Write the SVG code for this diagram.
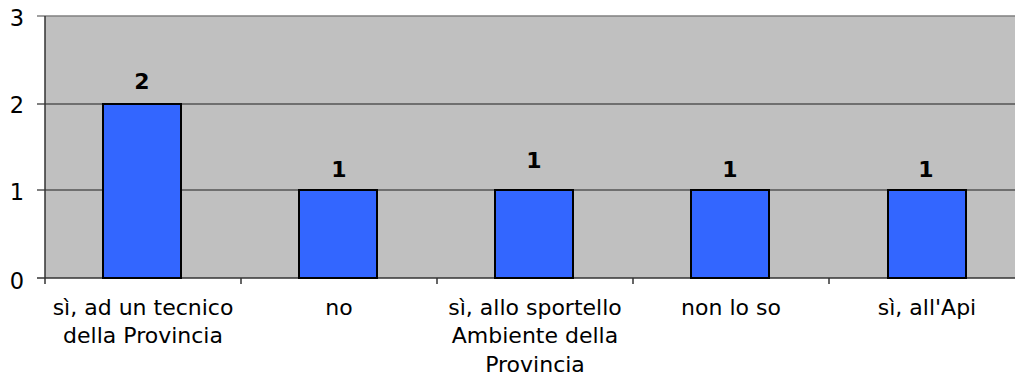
<svg xmlns="http://www.w3.org/2000/svg" width="1015" height="378" viewBox="0 0 1015 378">
<style>
.lbl{font-family:"DejaVu Sans",Verdana,sans-serif;font-size:22px;fill:#000;text-anchor:middle}
.ax{font-family:"DejaVu Sans",Verdana,sans-serif;font-size:22.5px;fill:#000;text-anchor:end}
.val{font-family:"DejaVu Sans",Verdana,sans-serif;font-size:22px;font-weight:bold;fill:#000;text-anchor:middle}
.bar{fill:#3366ff;stroke:#000;stroke-width:2}
.grid{stroke:#555;stroke-width:1.3}
</style>
<rect width="1015" height="378" fill="#fff"/>
<g id="plot">
<rect x="45" y="16" width="975" height="262" fill="#c0c0c0"/>
<line x1="37" y1="16" x2="1015" y2="16" stroke="#808080" stroke-width="1.5"/>
<line class="grid" x1="37" y1="104" x2="1015" y2="104"/>
<line class="grid" x1="37" y1="190" x2="1015" y2="190"/>
<line x1="37" y1="278" x2="1015" y2="278" stroke="#333" stroke-width="1.5"/>
<line x1="45" y1="16" x2="45" y2="284" stroke="#333" stroke-width="1.5"/>
<g stroke="#333" stroke-width="1.5">
<line x1="241" y1="278" x2="241" y2="284"/>
<line x1="437" y1="278" x2="437" y2="284"/>
<line x1="633" y1="278" x2="633" y2="284"/>
<line x1="829" y1="278" x2="829" y2="284"/>
</g>
<text class="ax" x="24" y="26">3</text>
<text class="ax" x="24" y="113">2</text>
<text class="ax" x="24" y="200">1</text>
<text class="ax" x="24" y="289">0</text>
</g>
<g id="bar1"><rect class="bar" x="103" y="104" width="78" height="174"/><text class="val" x="142" y="89">2</text></g>
<g id="bar2"><rect class="bar" x="299" y="190" width="78" height="88"/><text class="val" x="339" y="177">1</text></g>
<g id="bar3"><rect class="bar" x="495" y="190" width="78" height="88"/><text class="val" x="534" y="168">1</text></g>
<g id="bar4"><rect class="bar" x="691" y="190" width="78" height="88"/><text class="val" x="730" y="177">1</text></g>
<g id="bar5"><rect class="bar" x="888" y="190" width="78" height="88"/><text class="val" x="926" y="177">1</text></g>
<g id="labels">
<text class="lbl" x="143" y="315">sì, ad un tecnico</text>
<text class="lbl" x="143" y="343">della Provincia</text>
<text class="lbl" x="339" y="315">no</text>
<text class="lbl" x="535" y="315">sì, allo sportello</text>
<text class="lbl" x="535" y="343">Ambiente della</text>
<text class="lbl" x="535" y="372">Provincia</text>
<text class="lbl" x="731" y="315">non lo so</text>
<text class="lbl" x="927" y="315">sì, all'Api</text>
</g>
</svg>
